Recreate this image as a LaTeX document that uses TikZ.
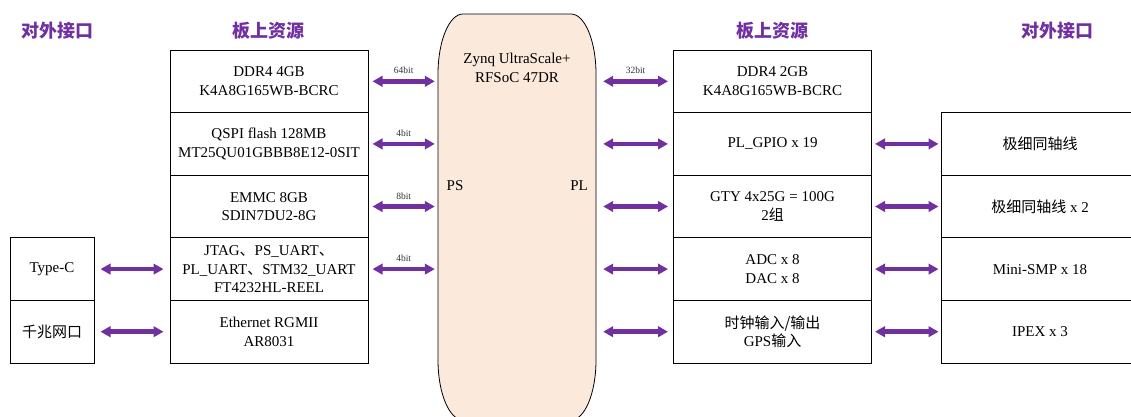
\documentclass[tikz,border=0pt]{standalone}
\usepackage{fontspec}
\setmainfont{Liberation Serif}
\newfontfamily\cjk{Noto Sans CJK SC}
\usetikzlibrary{arrows.meta}
\definecolor{busviolet}{HTML}{7030A0}
\definecolor{socfill}{HTML}{FBE9DB}

\begin{document}
\begin{tikzpicture}[
    x=1pt, y=-1pt,
    res/.style={draw=black, line width=1pt, minimum width=198pt, minimum height=62.6pt,
        inner sep=0pt, align=center, font=\fontsize{15}{18.5}\selectfont},
    extbox/.style={res, minimum width=84pt},
    bus/.style={draw=busviolet, line width=4.5pt,
        {Triangle[length=10pt,width=10.5pt]}-{Triangle[length=10pt,width=10.5pt]}},
    buswidth/.style={font=\fontsize{9.5}{10}\selectfont, text=black!80, inner sep=1pt, above=4pt},
    head/.style={text=busviolet, font=\cjk\bfseries\fontsize{18}{20}\selectfont},
]
\clip (0,0) rectangle (1131,416);

% Column headings
\node[head] (hExtL) at (57,31) {对外接口};
\node[head] (hResL) at (268,31) {板上资源};
\node[head] (hResR) at (772,31) {板上资源};
\node[head] (hExtR) at (1057,31) {对外接口};

% SoC body (elliptic corners, cut by the lower edge)
\draw[fill=socfill, draw=black, line width=0.8pt]
    (438,360) -- (438,74) .. controls (438,40.9) and (449.2,14) .. (463,14)
    -- (571,14) .. controls (584.8,14) and (596,40.9) .. (596,74)
    -- (596,360) .. controls (596,393.1) and (584.8,420) .. (571,420)
    -- (463,420) .. controls (449.2,420) and (438,393.1) .. (438,360) -- cycle;
\node[minimum width=158pt, minimum height=406pt, inner sep=0pt] (soc) at (517,217) {};
\node[align=center, font=\fontsize{15}{18.5}\selectfont] (socname) at (517,68)
    {Zynq UltraScale+\\RFSoC 47DR};
\node[font=\fontsize{15}{18}\selectfont] (ps) at (455,186) {PS};
\node[font=\fontsize{15}{18}\selectfont] (pl) at (579,186) {PL};

% Board resources, PS side
\node[res] (ddrPS)  at (269,81.3)  {DDR4 4GB\\K4A8G165WB-BCRC};
\node[res] (qspi)   at (269,143.9) {QSPI flash 128MB\\MT25QU01GBBB8E12-0SIT};
\node[res] (emmc)   at (269,206.5) {EMMC 8GB\\SDIN7DU2-8G};
\node[res] (uart)   at (269,269.1) {JTAG{\cjk 、}PS\_UART{\cjk 、}\\PL\_UART{\cjk 、}STM32\_UART\\FT4232HL-REEL};
\node[res] (eth)    at (269,331.7) {Ethernet RGMII\\AR8031};

% External interfaces, left
\node[extbox] (typec) at (52,269.1) {Type-C};
\node[extbox] (gbe)   at (52,331.7) {\cjk 千兆网口};

% Board resources, PL side
\node[res] (ddrPL) at (772.5,81.3)  {DDR4 2GB\\K4A8G165WB-BCRC};
\node[res] (gpio)  at (772.5,143.9) {PL\_GPIO x 19};
\node[res] (gty)   at (772.5,206.5) {GTY 4x25G = 100G\\2{\cjk 组}};
\node[res] (rf)    at (772.5,269.1) {ADC x 8\\DAC x 8};
\node[res] (clk)   at (772.5,331.7) {{\cjk 时钟输入/输出}\\GPS{\cjk 输入}};

% External interfaces, right
\node[res] (coax)  at (1040,143.9) {\cjk 极细同轴线};
\node[res] (coax2) at (1040,206.5) {{\cjk 极细同轴线} x 2};
\node[res] (smp)   at (1040,269.1) {Mini-SMP x 18};
\node[res] (ipex)  at (1040,331.7) {IPEX x 3};

% Buses PS side
\draw[bus] ([xshift=4pt]ddrPS.east) -- ([xshift=-3pt]soc.west |- ddrPS.east) node[midway, buswidth] {64bit};
\draw[bus] ([xshift=4pt]qspi.east)  -- ([xshift=-3pt]soc.west |- qspi.east)  node[midway, buswidth] {4bit};
\draw[bus] ([xshift=4pt]emmc.east)  -- ([xshift=-3pt]soc.west |- emmc.east)  node[midway, buswidth] {8bit};
\draw[bus] ([xshift=4pt]uart.east)  -- ([xshift=-3pt]soc.west |- uart.east)  node[midway, buswidth] {4bit};
\draw[bus] ([xshift=6pt]typec.east) -- ([xshift=-6pt]uart.west);
\draw[bus] ([xshift=6pt]gbe.east)   -- ([xshift=-6pt]eth.west);

% Buses PL side
\draw[bus] ([xshift=7pt]soc.east |- ddrPL.west) -- ([xshift=-5pt]ddrPL.west) node[midway, buswidth] {32bit};
\foreach \r in {gpio,gty,rf,clk}
    \draw[bus] ([xshift=7pt]soc.east |- \r.west) -- ([xshift=-5pt]\r.west);
\draw[bus] ([xshift=3pt]gpio.east) -- ([xshift=-2pt]coax.west);
\draw[bus] ([xshift=3pt]gty.east)  -- ([xshift=-2pt]coax2.west);
\draw[bus] ([xshift=3pt]rf.east)   -- ([xshift=-2pt]smp.west);
\draw[bus] ([xshift=3pt]clk.east)  -- ([xshift=-2pt]ipex.west);

\end{tikzpicture}
\end{document}
